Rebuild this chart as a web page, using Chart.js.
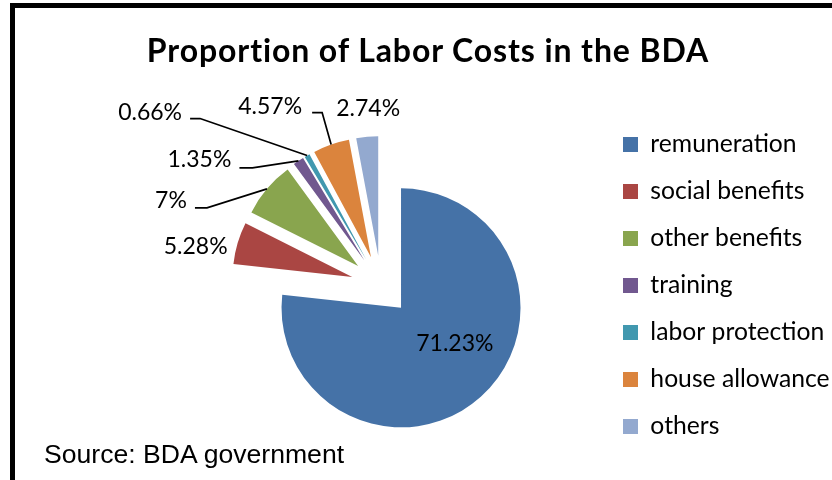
<!DOCTYPE html>
<html><head><meta charset="utf-8">
<script src="https://cdn.jsdelivr.net/npm/chart.js@4"></script>
<style>
html,body{margin:0;padding:0;background:#fff;overflow:hidden;}
#wrap{position:relative;width:832px;height:480px;overflow:hidden;}
#frame{position:absolute;left:10px;top:3px;right:0;bottom:0;border-left:5px solid #000;border-top:5px solid #000;}
canvas{position:absolute;left:0;top:0;}
#title{position:absolute;left:28px;width:800px;top:30px;text-align:center;font-family:Lato,sans-serif;font-weight:bold;font-size:32px;letter-spacing:0.9px;line-height:40px;color:#000;white-space:nowrap;}
#source{position:absolute;left:44px;top:439px;font-family:"Liberation Sans",Arial,sans-serif;font-size:26.6px;line-height:30px;color:#000;white-space:nowrap;}
</style></head>
<body><div id="wrap"><div id="frame"></div><canvas id="c" width="832" height="480"></canvas><div id="title"></div><div id="source"></div></div>
<script>
// ---- data ----
const categories = ['remuneration', 'social benefits', 'other benefits', 'training', 'labor protection', 'house allowance', 'others'];
const values = [71.23, 5.28, 7, 1.35, 0.66, 4.57, 2.74];
const valueLabels = values.map(v => v + '%');
const chartTitle = 'Proportion of Labor Costs in the BDA';
const sourceNote = 'Source: BDA government';

// ---- styles / layout ----
const colors = ['#4572A7', '#AA4643', '#89A54E', '#71588F', '#4198AF', '#DB843D', '#93A9CF'];
const EXPLODE = 30;
const LEGEND_FONT = 24.7, LEGEND_BOX = 15, LEGEND_PAD = 22.3, LEGEND_BOX_X = 623;
const PIE_CX = 381;
// label centre relative to the outer mid-point of its slice; leader = [start, elbow] relative to label centre
const labelLayout = [
  {dx: -26, dy: -53, leader: null},
  {dx: -42, dy: 3, leader: null},
  {dx: -96, dy: 12, leader: [[24, 7], [36, 7]]},
  {dx: -99, dy: -1, leader: [[40, 8], [53, 8]]},
  {dx: -157, dy: -43, leader: [[40, 6], [50, 6]]},
  {dx: -61, dy: -38, leader: [[42, 6], [52, 6]]},
  {dx: 1, dy: -28, leader: null}
];

document.getElementById('title').textContent = chartTitle;
document.getElementById('source').textContent = sourceNote;

Chart.defaults.color = '#000';

// measure legend width so the legend box lands where wanted
const mctx = document.createElement('canvas').getContext('2d');
mctx.font = LEGEND_FONT + 'px Lato';
const maxText = Math.max(...categories.map(t => mctx.measureText(t).width));
const legendW = LEGEND_PAD + LEGEND_BOX + LEGEND_FONT / 2 + maxText + 10;
const legendLeft = LEGEND_BOX_X - LEGEND_PAD;
const padRight = 832 - (legendLeft + legendW);
const padLeft = 2 * PIE_CX - legendLeft;

const explodePlugin = {
  id: 'explode',
  afterDatasetsUpdate(chart) {
    chart.getDatasetMeta(0).data.forEach(arc => {
      const mid = (arc.startAngle + arc.endAngle) / 2;
      arc.x += Math.cos(mid) * EXPLODE;
      arc.y += Math.sin(mid) * EXPLODE;
    });
  }
};

const labelPlugin = {
  id: 'pieLabels',
  afterDatasetsDraw(chart) {
    const ctx = chart.ctx;
    const meta = chart.getDatasetMeta(0);
    ctx.save();
    ctx.font = '23px Lato';
    ctx.fillStyle = '#000';
    ctx.textAlign = 'center';
    ctx.textBaseline = 'middle';
    ctx.strokeStyle = '#000';
    ctx.lineWidth = 1.7;
    meta.data.forEach((arc, i) => {
      const mid = (arc.startAngle + arc.endAngle) / 2;
      const ax = arc.x + Math.cos(mid) * arc.outerRadius;
      const ay = arc.y + Math.sin(mid) * arc.outerRadius;
      const L = labelLayout[i];
      const lx = ax + L.dx, ly = ay + L.dy;
      if (L.leader) {
        ctx.beginPath();
        ctx.moveTo(lx + L.leader[0][0], ly + L.leader[0][1]);
        ctx.lineTo(lx + L.leader[1][0], ly + L.leader[1][1]);
        ctx.lineTo(ax, ay);
        ctx.stroke();
      }
      ctx.fillText(valueLabels[i], lx, ly);
    });
    ctx.restore();
  }
};

new Chart(document.getElementById('c'), {
  type: 'pie',
  data: {
    labels: categories,
    datasets: [{
      data: values,
      backgroundColor: colors,
      borderWidth: 0
    }]
  },
  options: {
    responsive: false,
    animation: false,
    events: [],
    radius: 119.5,
    layout: {padding: {left: padLeft, right: padRight, top: 91, bottom: 0}},
    plugins: {
      title: {display: false},
      legend: {
        position: 'right',
        labels: {
          font: {family: 'Lato', size: LEGEND_FONT},
          color: '#000',
          boxWidth: LEGEND_BOX,
          boxHeight: LEGEND_BOX,
          padding: LEGEND_PAD
        }
      },
      tooltip: {enabled: false}
    }
  },
  plugins: [explodePlugin, labelPlugin]
});
</script>
</body></html>
